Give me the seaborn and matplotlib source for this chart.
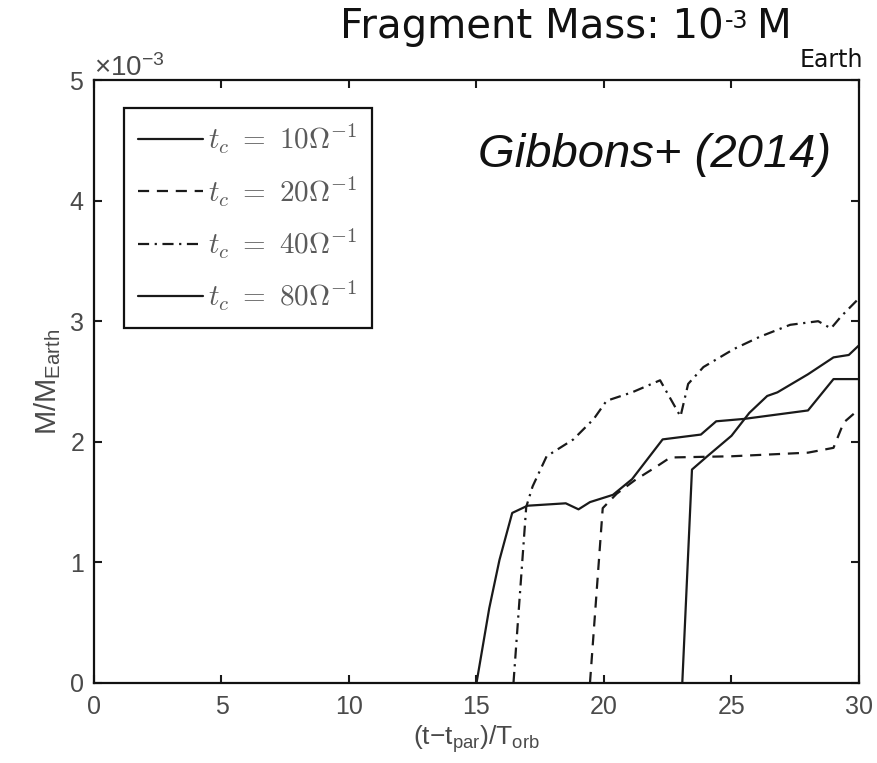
import numpy as np
import pandas as pd
import matplotlib
matplotlib.use("Agg")
import matplotlib.pyplot as plt
from matplotlib.ticker import ScalarFormatter, MultipleLocator
import seaborn as sns

# Accreted fragment mass (in units of 1e-3 M_Earth) against time since
# pericentre passage (in orbital periods), one series per cooling time t_c.
tc10_t = [15.0, 15.5, 15.9, 16.4, 17.0, 18.5, 19.0, 19.45, 20.35, 21.1, 22.3,
          23.8, 24.4, 25.5, 28.0, 29.0, 30.0]
tc10_m = [0.0, 0.62, 1.02, 1.41, 1.47, 1.49, 1.44, 1.50, 1.56, 1.69, 2.02,
          2.06, 2.17, 2.19, 2.26, 2.52, 2.52]

tc20_t = [19.45, 19.95, 20.5, 21.2, 22.1, 22.6, 25.0, 28.0, 29.0, 29.4, 30.0]
tc20_m = [0.0, 1.45, 1.57, 1.68, 1.80, 1.87, 1.88, 1.91, 1.95, 2.16, 2.27]

tc40_t = [16.45, 16.95, 17.2, 17.75, 18.8, 19.6, 20.1, 21.1, 22.2, 23.0, 23.3,
          23.9, 25.1, 26.1, 27.3, 28.4, 28.9, 29.3, 30.0]
tc40_m = [0.0, 1.46, 1.63, 1.88, 2.02, 2.19, 2.34, 2.41, 2.51, 2.21, 2.48,
          2.62, 2.77, 2.87, 2.97, 3.00, 2.94, 3.04, 3.19]

tc80_t = [23.07, 23.45, 24.05, 25.0, 25.7, 26.4, 26.8, 28.0, 29.0, 29.6, 30.0]
tc80_m = [0.0, 1.77, 1.88, 2.05, 2.24, 2.38, 2.41, 2.56, 2.70, 2.72, 2.80]

series_labels = [r"$t_c\ =\ 10\Omega^{-1}$", r"$t_c\ =\ 20\Omega^{-1}$",
                 r"$t_c\ =\ 40\Omega^{-1}$", r"$t_c\ =\ 80\Omega^{-1}$"]
mass_unit = 1e-3

sns.set_theme(style="ticks")
plt.rcParams.update({
    "font.family": ["Liberation Sans", "DejaVu Sans"],
    "mathtext.fontset": "custom",
    "mathtext.rm": "Liberation Sans",
    "mathtext.it": "Liberation Sans:italic",
    "mathtext.bf": "Liberation Sans:bold",
    "axes.linewidth": 1.6,
    "axes.edgecolor": "#111111",
})

ink = "#1a1a1a"
grey = "#4a4a4a"

fig = plt.figure(figsize=(8.78, 7.63), dpi=100)
ax = fig.add_axes([94 / 878, 1 - 683 / 763, 765 / 878, 603 / 763])

frames = [
    (tc10_t, tc10_m, "-"),
    (tc20_t, tc20_m, (0, (5, 3.5))),
    (tc40_t, tc40_m, (0, (5, 2.5, 1, 2.5))),
    (tc80_t, tc80_m, "-"),
]
for (t, m, ls), lab in zip(frames, series_labels):
    df = pd.DataFrame({"t": t, "M": np.asarray(m) * mass_unit})
    sns.lineplot(data=df, x="t", y="M", ax=ax, sort=False, estimator=None,
                 color=ink, linewidth=1.6, linestyle=ls, label=lab,
                 legend=False)

ax.set_xlim(0, 30)
ax.set_ylim(0, 5 * mass_unit)
ax.xaxis.set_major_locator(MultipleLocator(5))
ax.yaxis.set_major_locator(MultipleLocator(mass_unit))
fmt = ScalarFormatter(useMathText=True)
fmt.set_powerlimits((0, 0))
ax.yaxis.set_major_formatter(fmt)
ax.yaxis.get_offset_text().set_fontsize(20)
ax.yaxis.get_offset_text().set_color(grey)

ax.tick_params(direction="in", length=6, width=1.5, top=True, right=True,
               labelsize=18, labelcolor=grey, color=ink)
ax.tick_params(axis="x", pad=9)
ax.tick_params(axis="y", pad=7)
for side in ["top", "right", "bottom", "left"]:
    ax.spines[side].set_visible(True)

ax.set_xlabel("(t\u2212t$_{\\mathregular{par}}$)/T$_{\\mathregular{orb}}$",
              fontsize=19, color=grey, labelpad=3)
ax.set_ylabel("M/M$_{\\mathregular{Earth}}$", fontsize=21, color=grey,
              labelpad=4)

leg = ax.legend(handles=ax.lines[:4], labels=series_labels,
                loc="upper left", bbox_to_anchor=(0.039, 0.954),
                borderaxespad=0, frameon=True, fancybox=False,
                edgecolor="#111111", framealpha=1,
                prop={"size": 21, "math_fontfamily": "cm"},
                handlelength=2.2, handletextpad=0.2, labelspacing=0.62,
                borderpad=0.5, labelcolor="#5a5a5a")
leg.get_frame().set_linewidth(1.6)

fig.text(478 / 878, 1 - 167 / 763, "Gibbons+ (2014)", style="italic",
         fontsize=34, va="baseline", ha="left", color="#111111")

title_font = ["DejaVu Sans"]
fig.text(724 / 878, 1 - 38 / 763, "Fragment Mass: 10", ha="right",
         va="baseline", fontsize=29, family=title_font, color="#111111")
fig.text(725 / 878, 1 - 28 / 763, "-3", ha="left", va="baseline",
         fontsize=17, family=title_font, color="#111111")
fig.text(757 / 878, 1 - 38 / 763, "M", ha="left", va="baseline",
         fontsize=29, family=title_font, color="#111111")
fig.text(800 / 878, 1 - 67 / 763, "Earth", ha="left", va="baseline",
         fontsize=17, family=title_font, color="#111111")

fig.savefig("out.png", dpi=100, facecolor="white")
